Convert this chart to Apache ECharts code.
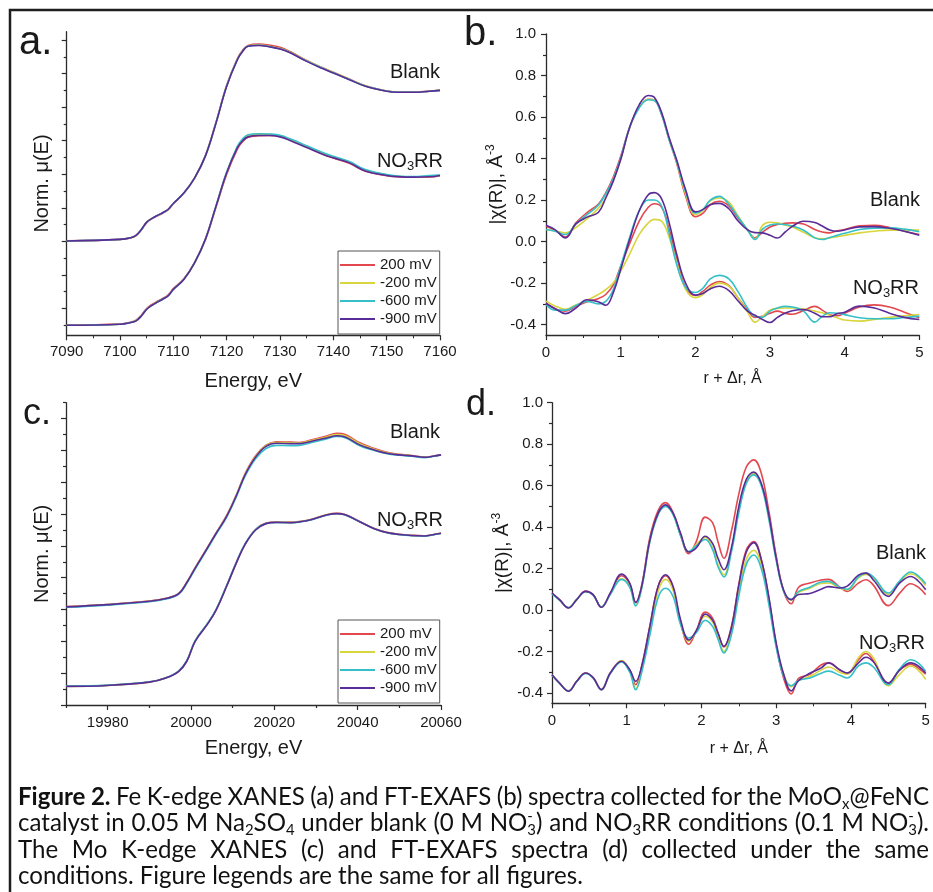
<!DOCTYPE html>
<html><head><meta charset="utf-8">
<script src="https://cdn.jsdelivr.net/npm/echarts@6/dist/echarts.min.js"></script>
<style>html,body{margin:0;padding:0;background:#fff}#c{width:933px;height:892px}</style>
</head><body><div id="c"></div>
<script>
// ---------------- DATA ----------------
const seriesNames = ['200 mV', '-200 mV', '-600 mV', '-900 mV'];

// Panel a: Fe K-edge XANES
const aE = [7090,7100,7102,7103,7104,7105,7106,7107,7108,7109,7110,7112,7114,7116,7118,7120,7122,7123,7124,7126,7128,7130,7132,7135,7138,7140,7143,7146,7150,7152,7155,7158,7160];
const aBlank200  = [0.003,0.012,0.021,0.034,0.068,0.112,0.136,0.152,0.168,0.188,0.224,0.288,0.378,0.51,0.71,0.93,1.09,1.14,1.168,1.176,1.17,1.157,1.13,1.078,1.035,1.008,0.968,0.928,0.897,0.89,0.89,0.896,0.901];
const aBlankM200 = [0.002,0.011,0.021,0.035,0.07,0.114,0.137,0.154,0.17,0.19,0.225,0.289,0.379,0.508,0.707,0.926,1.085,1.136,1.165,1.171,1.163,1.149,1.126,1.077,1.034,1.007,0.967,0.927,0.896,0.89,0.889,0.895,0.90];
const aBlankM600 = [0.002,0.012,0.022,0.036,0.07,0.114,0.137,0.155,0.171,0.19,0.226,0.29,0.379,0.508,0.707,0.926,1.084,1.134,1.164,1.169,1.161,1.148,1.124,1.075,1.032,1.005,0.965,0.926,0.896,0.889,0.889,0.895,0.90];
const aBlankM900 = [0.002,0.012,0.022,0.036,0.071,0.115,0.137,0.155,0.171,0.19,0.226,0.29,0.379,0.508,0.706,0.925,1.083,1.133,1.163,1.168,1.16,1.147,1.123,1.073,1.03,1.004,0.964,0.925,0.895,0.889,0.889,0.895,0.90];
const aNO3200  = [-0.498,-0.493,-0.482,-0.47,-0.44,-0.4,-0.376,-0.357,-0.34,-0.32,-0.282,-0.222,-0.125,0.01,0.205,0.4,0.55,0.595,0.62,0.63,0.632,0.625,0.603,0.562,0.52,0.497,0.465,0.418,0.392,0.385,0.382,0.384,0.392];
const aNO3M200 = [-0.5,-0.494,-0.484,-0.473,-0.444,-0.404,-0.38,-0.361,-0.344,-0.324,-0.285,-0.225,-0.126,0.012,0.21,0.41,0.562,0.606,0.63,0.638,0.637,0.628,0.606,0.566,0.526,0.503,0.472,0.424,0.396,0.388,0.385,0.387,0.395];
const aNO3M600 = [-0.5,-0.494,-0.484,-0.474,-0.445,-0.405,-0.381,-0.362,-0.345,-0.325,-0.286,-0.226,-0.126,0.013,0.212,0.413,0.567,0.612,0.635,0.642,0.64,0.632,0.61,0.57,0.53,0.507,0.476,0.428,0.398,0.39,0.386,0.392,0.395];
const aNO3M900 = [-0.5,-0.494,-0.484,-0.474,-0.445,-0.405,-0.381,-0.362,-0.345,-0.325,-0.286,-0.226,-0.127,0.012,0.21,0.409,0.558,0.60,0.623,0.631,0.631,0.623,0.60,0.56,0.52,0.498,0.468,0.42,0.393,0.386,0.383,0.385,0.393];

// Panel b: Fe FT-EXAFS
const bR = [0,0.12,0.26,0.4,0.55,0.7,0.8,0.9,1.0,1.12,1.25,1.37,1.45,1.55,1.65,1.75,1.87,2.0,2.1,2.2,2.32,2.45,2.57,2.7,2.8,2.9,3.0,3.1,3.2,3.3,3.45,3.6,3.7,3.8,3.9,4.0,4.2,4.4,4.6,4.8,5.0];
const bBlank200  = [0.074,0.055,0.022,0.09,0.14,0.18,0.235,0.31,0.41,0.55,0.65,0.686,0.682,0.61,0.49,0.378,0.22,0.12,0.136,0.178,0.194,0.172,0.115,0.056,0.018,0.045,0.07,0.083,0.088,0.09,0.085,0.058,0.046,0.042,0.052,0.058,0.076,0.078,0.068,0.05,0.034];
const bBlankM200 = [0.058,0.052,0.042,0.068,0.11,0.16,0.21,0.30,0.394,0.55,0.65,0.686,0.682,0.615,0.49,0.386,0.23,0.13,0.15,0.196,0.21,0.19,0.125,0.056,0.013,0.078,0.093,0.09,0.08,0.07,0.045,0.018,0.013,0.018,0.024,0.03,0.042,0.05,0.055,0.055,0.055];
const bBlankM600 = [0.058,0.05,0.034,0.085,0.13,0.175,0.23,0.30,0.402,0.55,0.645,0.683,0.68,0.61,0.49,0.386,0.24,0.138,0.154,0.20,0.218,0.18,0.12,0.056,0.01,0.06,0.08,0.085,0.082,0.075,0.055,0.018,0.01,0.02,0.03,0.04,0.058,0.065,0.066,0.06,0.047];
const bBlankM900 = [0.079,0.058,0.018,0.085,0.118,0.14,0.21,0.29,0.394,0.55,0.66,0.704,0.695,0.62,0.50,0.394,0.25,0.143,0.154,0.178,0.184,0.158,0.10,0.056,0.043,0.042,0.03,0.017,0.045,0.073,0.098,0.092,0.075,0.056,0.05,0.056,0.071,0.072,0.064,0.05,0.03];
const bNO3200  = [-0.295,-0.325,-0.335,-0.312,-0.29,-0.275,-0.255,-0.21,-0.119,-0.01,0.10,0.165,0.182,0.165,0.06,-0.08,-0.22,-0.26,-0.24,-0.21,-0.192,-0.212,-0.27,-0.33,-0.365,-0.36,-0.345,-0.335,-0.345,-0.35,-0.332,-0.312,-0.33,-0.352,-0.357,-0.345,-0.315,-0.305,-0.315,-0.34,-0.367];
const bNO3M200 = [-0.287,-0.31,-0.326,-0.305,-0.283,-0.255,-0.232,-0.20,-0.143,-0.06,0.035,0.09,0.107,0.098,0.02,-0.10,-0.23,-0.27,-0.255,-0.222,-0.20,-0.215,-0.27,-0.34,-0.388,-0.36,-0.33,-0.322,-0.32,-0.32,-0.325,-0.335,-0.343,-0.355,-0.367,-0.378,-0.383,-0.375,-0.365,-0.357,-0.351];
const bNO3M600 = [-0.303,-0.33,-0.33,-0.308,-0.288,-0.30,-0.288,-0.232,-0.119,0.02,0.15,0.20,0.20,0.17,0.04,-0.11,-0.22,-0.245,-0.225,-0.18,-0.163,-0.18,-0.24,-0.32,-0.36,-0.365,-0.335,-0.32,-0.312,-0.315,-0.335,-0.388,-0.36,-0.343,-0.345,-0.352,-0.367,-0.372,-0.372,-0.366,-0.359];
const bNO3M900 = [-0.298,-0.322,-0.347,-0.32,-0.28,-0.29,-0.307,-0.247,-0.135,0.01,0.15,0.226,0.236,0.205,0.09,-0.06,-0.2,-0.258,-0.25,-0.228,-0.215,-0.236,-0.285,-0.335,-0.355,-0.375,-0.39,-0.365,-0.345,-0.333,-0.327,-0.345,-0.362,-0.362,-0.348,-0.34,-0.311,-0.32,-0.345,-0.365,-0.375];

// Panel c: Mo K-edge XANES
const cE = [19970,19980,19990,19994,19997,19999,20001,20004,20006,20008.5,20011,20013,20015.5,20018,20020.5,20024,20026,20029,20032.5,20035,20037,20040.5,20044,20047,20050,20053,20056,20058,20060];
const cBlank200  = [0.018,0.032,0.053,0.07,0.1,0.172,0.263,0.392,0.48,0.588,0.728,0.855,0.966,1.033,1.055,1.052,1.05,1.067,1.09,1.108,1.1,1.048,1.012,0.988,0.975,0.968,0.958,0.963,0.972];
const cBlankM200 = [0.017,0.031,0.052,0.069,0.099,0.171,0.262,0.391,0.479,0.586,0.726,0.852,0.962,1.03,1.05,1.048,1.047,1.063,1.085,1.1,1.093,1.042,1.008,0.985,0.974,0.967,0.957,0.963,0.972];
const cBlankM600 = [0.014,0.028,0.049,0.066,0.095,0.165,0.255,0.384,0.472,0.578,0.716,0.84,0.948,1.012,1.032,1.03,1.032,1.05,1.072,1.088,1.08,1.03,1.0,0.98,0.97,0.963,0.955,0.962,0.972];
const cBlankM900 = [0.017,0.031,0.052,0.069,0.098,0.17,0.26,0.39,0.478,0.584,0.723,0.848,0.958,1.025,1.045,1.043,1.043,1.058,1.078,1.092,1.085,1.035,1.003,0.982,0.972,0.966,0.957,0.963,0.972];
const cNO3200  = [-0.482,-0.476,-0.455,-0.429,-0.388,-0.322,-0.197,-0.088,-0.003,0.146,0.303,0.413,0.503,0.543,0.55,0.548,0.553,0.568,0.596,0.605,0.597,0.553,0.509,0.485,0.473,0.466,0.463,0.47,0.479];
const cNO3M200 = [-0.483,-0.477,-0.456,-0.43,-0.39,-0.324,-0.199,-0.089,-0.004,0.144,0.301,0.411,0.501,0.541,0.549,0.547,0.552,0.567,0.595,0.604,0.596,0.552,0.508,0.484,0.472,0.465,0.462,0.47,0.479];
const cNO3M600 = [-0.481,-0.475,-0.454,-0.428,-0.387,-0.32,-0.195,-0.086,0.0,0.148,0.305,0.414,0.503,0.541,0.547,0.545,0.55,0.565,0.593,0.602,0.594,0.551,0.507,0.483,0.471,0.464,0.461,0.469,0.478];
const cNO3M900 = [-0.483,-0.477,-0.456,-0.43,-0.39,-0.325,-0.2,-0.09,-0.005,0.143,0.30,0.41,0.50,0.54,0.548,0.546,0.551,0.566,0.594,0.603,0.595,0.552,0.508,0.484,0.472,0.465,0.462,0.47,0.479];

// Panel d: Mo FT-EXAFS
const dR = [0,0.1,0.22,0.33,0.45,0.55,0.66,0.78,0.93,1.04,1.12,1.2,1.31,1.42,1.52,1.62,1.72,1.83,1.93,2.05,2.15,2.22,2.3,2.4,2.5,2.6,2.7,2.8,2.9,3.0,3.1,3.2,3.3,3.45,3.6,3.7,3.85,3.95,4.1,4.2,4.3,4.5,4.65,4.8,4.9,5.0];
const dBlank200  = [0.082,0.05,0.01,0.05,0.092,0.074,0.013,0.08,0.165,0.125,0.035,0.12,0.35,0.48,0.518,0.47,0.36,0.272,0.33,0.448,0.42,0.33,0.25,0.38,0.56,0.69,0.724,0.66,0.48,0.26,0.09,0.03,0.11,0.13,0.145,0.148,0.11,0.09,0.13,0.146,0.12,0.021,0.08,0.127,0.11,0.074];
const dBlankM200 = [0.079,0.049,0.011,0.05,0.088,0.073,0.014,0.077,0.15,0.112,0.022,0.108,0.335,0.463,0.503,0.463,0.362,0.28,0.315,0.35,0.30,0.22,0.17,0.29,0.48,0.62,0.658,0.605,0.45,0.245,0.092,0.048,0.085,0.105,0.128,0.13,0.105,0.098,0.155,0.172,0.155,0.075,0.135,0.175,0.158,0.118];
const dBlankM600 = [0.078,0.048,0.012,0.05,0.088,0.072,0.015,0.075,0.148,0.11,0.02,0.105,0.33,0.46,0.499,0.46,0.36,0.282,0.31,0.34,0.29,0.21,0.16,0.28,0.47,0.61,0.652,0.60,0.44,0.24,0.09,0.05,0.09,0.11,0.135,0.138,0.11,0.10,0.16,0.178,0.16,0.082,0.14,0.183,0.165,0.127];
const dBlankM900 = [0.082,0.05,0.01,0.05,0.09,0.074,0.013,0.082,0.173,0.13,0.037,0.114,0.339,0.467,0.507,0.467,0.371,0.28,0.30,0.356,0.32,0.25,0.194,0.30,0.50,0.63,0.665,0.611,0.46,0.25,0.095,0.05,0.075,0.08,0.10,0.113,0.106,0.115,0.168,0.178,0.145,0.066,0.13,0.162,0.14,0.098];
const dNO3200  = [-0.312,-0.352,-0.39,-0.344,-0.304,-0.326,-0.384,-0.304,-0.245,-0.29,-0.36,-0.27,-0.075,0.115,0.165,0.105,-0.06,-0.165,-0.1,-0.01,-0.04,-0.11,-0.178,-0.08,0.125,0.29,0.33,0.245,0.06,-0.17,-0.33,-0.405,-0.33,-0.31,-0.265,-0.255,-0.29,-0.305,-0.24,-0.21,-0.245,-0.355,-0.29,-0.262,-0.28,-0.31];
const dNO3M200 = [-0.313,-0.353,-0.39,-0.345,-0.305,-0.327,-0.384,-0.305,-0.245,-0.29,-0.38,-0.29,-0.1,0.09,0.148,0.095,-0.065,-0.15,-0.1,-0.03,-0.06,-0.13,-0.2,-0.1,0.09,0.245,0.288,0.22,0.05,-0.17,-0.31,-0.37,-0.34,-0.32,-0.29,-0.275,-0.3,-0.31,-0.23,-0.2,-0.23,-0.365,-0.31,-0.27,-0.29,-0.335];
const dNO3M600 = [-0.315,-0.354,-0.391,-0.346,-0.306,-0.328,-0.385,-0.306,-0.25,-0.3,-0.385,-0.3,-0.12,0.06,0.105,0.065,-0.07,-0.135,-0.11,-0.05,-0.08,-0.14,-0.207,-0.12,0.07,0.22,0.265,0.2,0.03,-0.18,-0.32,-0.365,-0.34,-0.328,-0.305,-0.295,-0.315,-0.328,-0.27,-0.255,-0.275,-0.36,-0.285,-0.24,-0.255,-0.296];
const dNO3M900 = [-0.312,-0.352,-0.392,-0.344,-0.304,-0.326,-0.384,-0.304,-0.247,-0.288,-0.344,-0.272,-0.079,0.114,0.17,0.114,-0.047,-0.145,-0.1,-0.02,-0.05,-0.11,-0.175,-0.087,0.12,0.28,0.325,0.242,0.066,-0.159,-0.31,-0.39,-0.34,-0.305,-0.28,-0.255,-0.288,-0.304,-0.255,-0.228,-0.25,-0.352,-0.29,-0.255,-0.27,-0.304];

// Tick values / labels
const aYMajor = [-0.4,-0.2,0,0.2,0.4,0.6,0.8,1.0,1.2];
const aYMinor = [-0.5,-0.3,-0.1,0.1,0.3,0.5,0.7,0.9,1.1];
const cXMajor = [19980,20000,20020,20040,20060];
const cXMinor = [19970,19990,20010,20030,20050];
const cYMajor = [-0.6,-0.4,-0.2,0,0.2,0.4,0.6,0.8,1.0,1.2];
const cYMinor = [-0.5,-0.3,-0.1,0.1,0.3,0.5,0.7,0.9,1.1,1.3];
const rYMajor = [-0.4,-0.2,0,0.2,0.4,0.6,0.8,1.0];
const rYMinor = [-0.3,-0.1,0.1,0.3,0.5,0.7,0.9];

// ---------------- STYLE ----------------
const colors = ['#E2484E', '#D8D53E', '#35C0C9', '#5A2C98'];
const FONT = '"Liberation Sans", Arial, sans-serif';
const TXT = '#1a1a1a';
const AX = '#2b2b2b';

function merge(a, b) {
  const o = Object.assign({}, a);
  for (const k in b) {
    const v = b[k];
    if (v && typeof v === 'object' && !Array.isArray(v) && a[k] && typeof a[k] === 'object' && !Array.isArray(a[k])) o[k] = merge(a[k], v);
    else o[k] = v;
  }
  return o;
}
const plain = (v) => String(v);
const axisBase = {
  type: 'value',
  axisLine: { show: true, onZero: false, lineStyle: { color: AX, width: 1.3 } },
  axisTick: { show: true, inside: false, length: 5, lineStyle: { color: AX, width: 1.2 } },
  minorTick: { show: false },
  axisLabel: { show: true, color: TXT, fontSize: 15, fontFamily: FONT, margin: 9, formatter: plain },
  splitLine: { show: false },
  minorSplitLine: { show: false },
  nameLocation: 'middle',
  nameTextStyle: { color: TXT, fontSize: 20, fontFamily: FONT },
  silent: true
};
const minorAxis = (o) => merge(axisBase, merge({
  axisLine: { show: false }, axisLabel: { show: false }, axisTick: { length: 3 }
}, o));

const grids = [
  { left: 66.7, top: 31.7, width: 373.3, height: 303.6 },
  { left: 546, top: 34, width: 373.3, height: 301 },
  { left: 66, top: 402.7, width: 375, height: 302.3 },
  { left: 552, top: 402.7, width: 373.7, height: 300.6 }
].map(g => Object.assign(g, { containLabel: false, outerBoundsMode: 'none' }));

const ySupName = '|χ(R)|, Å{sup|-3}';
const ySupStyle = { color: TXT, fontSize: 19, fontFamily: FONT,
  rich: { sup: { fontSize: 12, fontFamily: FONT, color: TXT, fill: TXT, padding: [0, 0, 11, 0] } } };

const xAxes = [
  merge(axisBase, { gridIndex: 0, min: 7090, max: 7160, interval: 10, position: 'bottom',
    minorTick: { show: true, splitNumber: 2, length: 3, lineStyle: { color: AX } },
    axisLabel: { margin: 9 }, name: 'Energy, eV', nameGap: 36 }),
  merge(axisBase, { gridIndex: 1, min: 0, max: 5, interval: 1, position: 'bottom',
    minorTick: { show: true, splitNumber: 2, length: 3, lineStyle: { color: AX } },
    axisLabel: { margin: 10 }, name: 'r + Δr, Å', nameGap: 36, nameTextStyle: { fontSize: 16 } }),
  merge(axisBase, { gridIndex: 2, min: 19970, max: 20060, position: 'bottom',
    axisTick: { customValues: cXMajor }, axisLabel: { customValues: cXMajor, margin: 10 },
    name: 'Energy, eV', nameGap: 33 }),
  merge(axisBase, { gridIndex: 3, min: 0, max: 5, interval: 1, position: 'bottom',
    minorTick: { show: true, splitNumber: 2, length: 3, lineStyle: { color: AX } },
    axisLabel: { margin: 10 }, name: 'r + Δr, Å', nameGap: 37, nameTextStyle: { fontSize: 16 } }),
  minorAxis({ gridIndex: 2, min: 19970, max: 20060, position: 'bottom', axisTick: { customValues: cXMinor } })
];
const fmt1 = (v) => Number(v).toFixed(1);
const yAxes = [
  merge(axisBase, { gridIndex: 0, min: -0.56, max: 1.25, position: 'left',
    axisTick: { customValues: aYMajor }, axisLabel: { show: false },
    name: 'Norm. μ(E)', nameGap: 14 }),
  merge(axisBase, { gridIndex: 1, min: -0.45, max: 1.0, position: 'left',
    axisTick: { customValues: rYMajor }, axisLabel: { customValues: rYMajor, formatter: fmt1, margin: 10 },
    name: ySupName, nameGap: 38, nameTextStyle: ySupStyle }),
  merge(axisBase, { gridIndex: 2, min: -0.6, max: 1.3, position: 'left',
    axisTick: { customValues: cYMajor }, axisLabel: { show: false },
    name: 'Norm. μ(E)', nameGap: 14 }),
  merge(axisBase, { gridIndex: 3, min: -0.45, max: 1.0, position: 'left',
    axisTick: { customValues: rYMajor }, axisLabel: { customValues: rYMajor, formatter: fmt1, margin: 9 },
    name: ySupName, nameGap: 38, nameTextStyle: ySupStyle }),
  minorAxis({ gridIndex: 0, min: -0.56, max: 1.25, position: 'left', axisTick: { customValues: aYMinor } }),
  minorAxis({ gridIndex: 1, min: -0.45, max: 1.0, position: 'left', axisTick: { customValues: rYMinor } }),
  minorAxis({ gridIndex: 2, min: -0.6, max: 1.3, position: 'left', axisTick: { customValues: cYMinor } }),
  minorAxis({ gridIndex: 3, min: -0.45, max: 1.0, position: 'left', axisTick: { customValues: rYMinor } })
];

function line(name, color, idx, xs, ys) {
  return {
    type: 'line', name, xAxisIndex: idx, yAxisIndex: idx,
    data: xs.map((x, i) => [x, ys[i]]),
    symbol: 'none', showSymbol: false, smooth: 0.4,
    lineStyle: { width: 1.6, color }, itemStyle: { color },
    emphasis: { disabled: true }, silent: true, animation: false, z: 2
  };
}
const panels = [
  { x: aE, sets: [[aBlank200, aNO3200], [aBlankM200, aNO3M200], [aBlankM600, aNO3M600], [aBlankM900, aNO3M900]] },
  { x: bR, sets: [[bBlank200, bNO3200], [bBlankM200, bNO3M200], [bBlankM600, bNO3M600], [bBlankM900, bNO3M900]] },
  { x: cE, sets: [[cBlank200, cNO3200], [cBlankM200, cNO3M200], [cBlankM600, cNO3M600], [cBlankM900, cNO3M900]] },
  { x: dR, sets: [[dBlank200, dNO3200], [dBlankM200, dNO3M200], [dBlankM600, dNO3M600], [dBlankM900, dNO3M900]] }
];
const series = [];
panels.forEach((p, pi) => {
  p.sets.forEach((pair, si) => {
    series.push(line(seriesNames[si], colors[si], pi, p.x, pair[0]));
    series.push(line(seriesNames[si], colors[si], pi, p.x, pair[1]));
  });
});

function legendAt(top) {
  return {
    left: 338, top, orient: 'vertical', data: seriesNames, selectedMode: false,
    icon: 'rect', itemWidth: 35, itemHeight: 2, itemGap: 2, padding: [6, 3, 7, 2],
    borderColor: '#555', borderWidth: 1, backgroundColor: 'rgba(255,255,255,0)',
    textStyle: { fontSize: 15, color: TXT, fontFamily: FONT, lineHeight: 16 }
  };
}

// ---------------- TEXT GRAPHICS ----------------
const g = [];
g.push({ type: 'polyline', shape: { points: [[10, 892], [10, 10], [933, 10]] },
  style: { stroke: '#1e1e1e', lineWidth: 2.5, fill: null }, silent: true });

function txt(x, y, text, size, align) {
  return { type: 'text', x, y, silent: true,
    style: { text, font: size + 'px ' + FONT, fill: TXT, align: align || 'left', textAlign: align || 'left', verticalAlign: 'middle', textVerticalAlign: 'middle' } };
}
function no3rr(x, y) {
  return { type: 'text', x, y, silent: true,
    style: { text: '{n|NO}{s|3}{n|RR}', align: 'right', textAlign: 'right', verticalAlign: 'middle', textVerticalAlign: 'middle',
      rich: { n: { fontSize: 20, fontFamily: FONT, fill: TXT, color: TXT },
              s: { fontSize: 13, fontFamily: FONT, fill: TXT, color: TXT, padding: [11, 0, 0, 0] } } } };
}
g.push(txt(19, 43, 'a.', 40));
g.push(txt(464, 34, 'b.', 40));
g.push(txt(23, 414, 'c.', 36));
g.push(txt(466, 405, 'd.', 36));
g.push(txt(440, 72, 'Blank', 20, 'right'));
g.push(no3rr(443, 161));
g.push(txt(920, 200, 'Blank', 20, 'right'));
g.push(no3rr(919, 288));
g.push(txt(440, 432, 'Blank', 20, 'right'));
g.push(no3rr(443, 520));
g.push(txt(926, 553, 'Blank', 20, 'right'));
g.push(no3rr(925, 643));

// caption with justified lines
const CAP_FAMILY = 'Lato';
const CAP_LEFT = 18, CAP_RIGHT = 929, CAP_LAST_W = 565;
const capY = [797, 823.5, 850, 876.5];
const W = (s) => [['n', s]];
const capLines = [
  [[['b', 'Figure']], [['b', '2.']], W('Fe'), W('K-edge'), W('XANES'), W('(a)'), W('and'), W('FT-EXAFS'), W('(b)'), W('spectra'), W('collected'), W('for'), W('the'), [['n', 'MoO'], ['sub', 'x'], ['n', '@FeNC']]],
  [W('catalyst'), W('in'), W('0.05'), W('M'), [['n', 'Na'], ['sub', '2'], ['n', 'SO'], ['sub', '4']], W('under'), W('blank'), W('(0'), W('M'), [['n', 'NO'], ['sub', '3'], ['sup', '-'], ['n', ')']], W('and'), [['n', 'NO'], ['sub', '3'], ['n', 'RR']], W('conditions'), W('(0.1'), W('M'), [['n', 'NO'], ['sub', '3'], ['sup', '-'], ['n', ').']]],
  [W('The'), W('Mo'), W('K-edge'), W('XANES'), W('(c)'), W('and'), W('FT-EXAFS'), W('spectra'), W('(d)'), W('collected'), W('under'), W('the'), W('same')],
  [W('conditions.'), W('Figure'), W('legends'), W('are'), W('the'), W('same'), W('for'), W('all'), W('figures.')]
];
const ctx = document.createElement('canvas').getContext('2d');
function segFont(st, size) {
  const sz = (st === 'sub' || st === 'sup') ? size * 0.62 : size;
  return (st === 'b' ? 'bold ' : '') + sz.toFixed(2) + 'px ' + CAP_FAMILY;
}
function layoutWord(word, size, x0) {
  const out = []; let w = 0, prevStart = 0, prevW = 0, prevSt = null;
  for (const [st, t] of word) {
    ctx.font = segFont(st, size);
    const tw = ctx.measureText(t).width;
    let sx;
    if (st === 'sup' && prevSt === 'sub') { sx = prevStart; w = prevStart + Math.max(prevW, tw); }
    else { sx = w; prevStart = w; w += tw; }
    out.push({ st, t, x: x0 + sx });
    prevW = tw; prevSt = st;
  }
  return { w, out };
}
function lineNatural(words, size) {
  ctx.font = segFont('n', size);
  const sp = ctx.measureText(' ').width;
  let s = 0; words.forEach(wd => s += layoutWord(wd, size, 0).w);
  return { s, sp };
}
const nat100 = lineNatural(capLines[3], 100);
const capSize = 100 * CAP_LAST_W / (nat100.s + nat100.sp * (capLines[3].length - 1));
capLines.forEach((words, li) => {
  const nat = lineNatural(words, capSize);
  let gap = nat.sp;
  if (li < capLines.length - 1) gap = Math.max(nat.sp * 0.5, (CAP_RIGHT - CAP_LEFT - nat.s) / (words.length - 1));
  let x = CAP_LEFT;
  words.forEach(wd => {
    const lw = layoutWord(wd, capSize, x);
    lw.out.forEach(seg => {
      let dy = 0;
      if (seg.st === 'sub') dy = capSize * 0.28;
      if (seg.st === 'sup') dy = -capSize * 0.3;
      g.push({ type: 'text', x: seg.x, y: capY[li] + dy, silent: true,
        style: { text: seg.t, font: segFont(seg.st, capSize), fill: '#111',
          align: 'left', textAlign: 'left', verticalAlign: 'middle', textVerticalAlign: 'middle' } });
    });
    x += lw.w + gap;
  });
});

const chart = echarts.init(document.getElementById('c'), null, { renderer: 'canvas' });
chart.setOption({
  animation: false,
  backgroundColor: '#fff',
  grid: grids,
  xAxis: xAxes,
  yAxis: yAxes,
  legend: [legendAt(251), legendAt(620)],
  series,
  graphic: { elements: g }
});
</script>
</body></html>
